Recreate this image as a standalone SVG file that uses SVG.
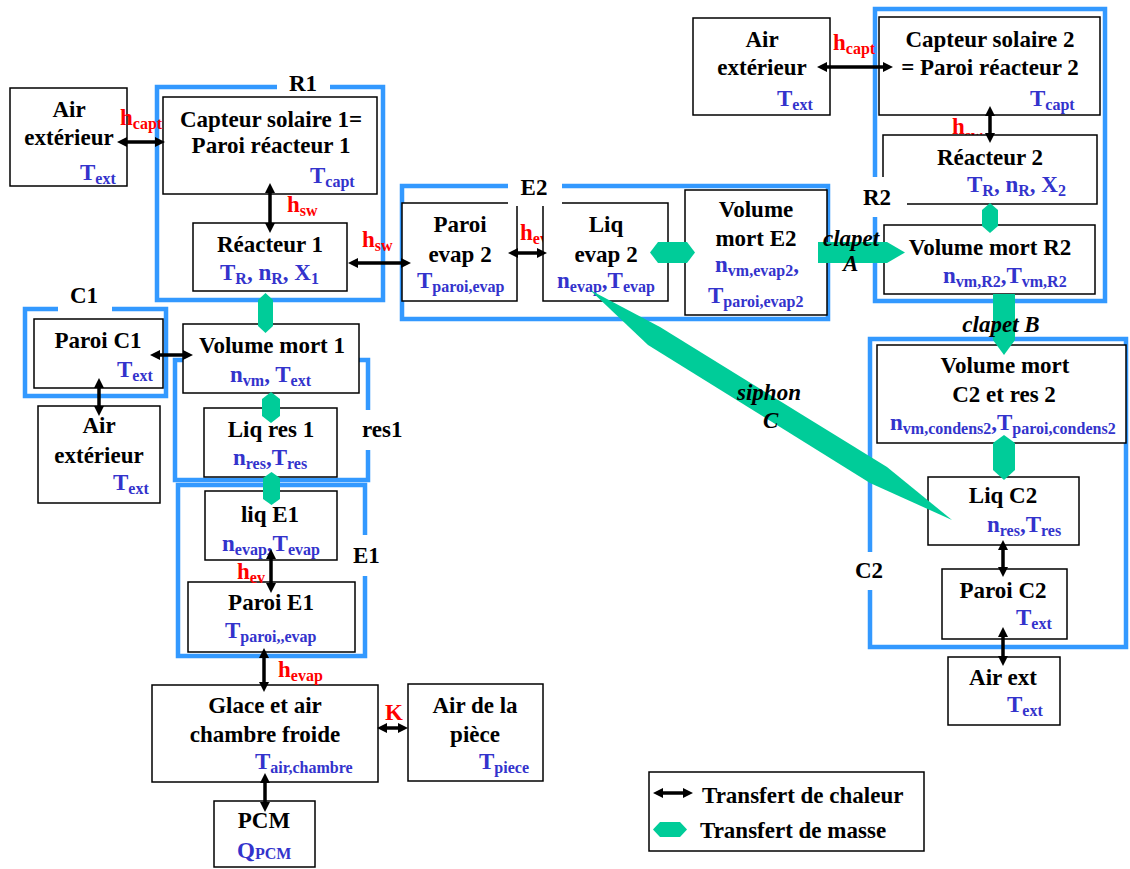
<svg xmlns="http://www.w3.org/2000/svg" width="1130" height="869" viewBox="0 0 1130 869" font-family="'Liberation Serif', 'Times New Roman', serif">
<defs>
<style>
.box{fill:#fff;stroke:#000;stroke-width:1.5}
.cont{fill:none;stroke:#3399ff;stroke-width:4.5}
.t{font-family:'Liberation Serif','Times New Roman',serif;font-weight:bold;font-size:23px;fill:#000}
.c{text-anchor:middle}
.v{fill:#3333cc}
.r{fill:#ff0000}
.s{font-size:16px}
.it{font-style:italic}
.heat{stroke:#000;stroke-width:3.5;fill:none;marker-start:url(#ah);marker-end:url(#ah)}
.mass{fill:#00cc99}
.bg{fill:#fff}
</style>
<marker id="ah" viewBox="0 0 10 10" markerWidth="10" markerHeight="10" refX="4" refY="5" orient="auto-start-reverse" markerUnits="userSpaceOnUse">
<path d="M0,0 L10,5 L0,10 z" fill="#000"/>
</marker>
</defs>
<rect width="1130" height="869" fill="#fff"/>

<g id="containers">
<rect class="cont" x="157" y="87" width="226" height="213"/>
<rect class="cont" x="402" y="186" width="426" height="133"/>
<rect class="cont" x="875" y="9" width="230" height="292"/>
<rect class="cont" x="25" y="309" width="141" height="87"/>
<rect class="cont" x="175" y="360" width="193" height="120"/>
<rect class="cont" x="178" y="485" width="187" height="171"/>
<rect class="cont" x="870" y="339" width="256" height="308"/>
</g>

<g id="labels-under">
<text class="t r" x="520" y="240">h<tspan class="s" dy="4">ev</tspan></text>
<text class="t r" x="952" y="134">h<tspan class="s" dy="7">sw</tspan></text>
</g>

<g id="air-ext-1">
<rect class="box" x="10" y="88" width="117" height="98"/>
<text class="t c" x="69" y="117">Air</text>
<text class="t c" x="69" y="145">extérieur</text>
<text class="t v" x="80" y="180">T<tspan class="s" dy="4">ext</tspan></text>
</g>
<g id="capteur-1">
<rect class="box" x="163" y="97" width="214" height="97"/>
<text class="t c" x="271" y="127">Capteur solaire 1=</text>
<text class="t c" x="271" y="153">Paroi réacteur 1</text>
<text class="t v" x="310" y="183">T<tspan class="s" dy="4">capt</tspan></text>
</g>
<g id="reacteur-1">
<rect class="box" x="193" y="223" width="154" height="68"/>
<text class="t c" x="270" y="252">Réacteur 1</text>
<text class="t v" x="220" y="280">T<tspan class="s" dy="4">R</tspan><tspan dy="-4">, n</tspan><tspan class="s" dy="4">R</tspan><tspan dy="-4">, X</tspan><tspan class="s" dy="4">1</tspan></text>
</g>
<g id="paroi-evap-2">
<rect class="box" x="402" y="203" width="115" height="98"/>
<text class="t c" x="460" y="232">Paroi</text>
<text class="t c" x="460" y="262">evap 2</text>
<text class="t v" x="417" y="288">T<tspan class="s" dy="4">paroi,evap</tspan></text>
</g>
<g id="liq-evap-2">
<rect class="box" x="543" y="203" width="125" height="98"/>
<text class="t c" x="606" y="232">Liq</text>
<text class="t c" x="606" y="262">evap 2</text>
<text class="t v" x="557" y="288">n<tspan class="s" dy="4">evap</tspan><tspan dy="-4">,T</tspan><tspan class="s" dy="4">evap</tspan></text>
</g>
<g id="volume-mort-e2">
<rect class="box" x="685" y="190" width="142" height="125"/>
<text class="t c" x="756" y="217">Volume</text>
<text class="t c" x="756" y="246">mort E2</text>
<text class="t v" x="715" y="272">n<tspan class="s" dy="4">vm,evap2</tspan><tspan dy="-4">,</tspan></text>
<text class="t v" x="708" y="303">T<tspan class="s" dy="4">paroi,evap2</tspan></text>
</g>
<g id="air-ext-2">
<rect class="box" x="693" y="18" width="137" height="97"/>
<text class="t c" x="762" y="47">Air</text>
<text class="t c" x="762" y="75">extérieur</text>
<text class="t v" x="777" y="106">T<tspan class="s" dy="4">ext</tspan></text>
</g>
<g id="capteur-2">
<rect class="box" x="879" y="17" width="221" height="98"/>
<text class="t c" x="990" y="47">Capteur solaire 2</text>
<text class="t c" x="990" y="75">= Paroi réacteur 2</text>
<text class="t v" x="1030" y="106">T<tspan class="s" dy="4">capt</tspan></text>
</g>
<g id="reacteur-2">
<rect class="box" x="883" y="135" width="214" height="69"/>
<text class="t c" x="990" y="165">Réacteur 2</text>
<text class="t v" x="967" y="192">T<tspan class="s" dy="4">R</tspan><tspan dy="-4">, n</tspan><tspan class="s" dy="4">R</tspan><tspan dy="-4">, X</tspan><tspan class="s" dy="4">2</tspan></text>
</g>
<g id="volume-mort-r2">
<rect class="box" x="884" y="225" width="211" height="69"/>
<text class="t c" x="990" y="255">Volume mort R2</text>
<text class="t v" x="943" y="283">n<tspan class="s" dy="4">vm,R2</tspan><tspan dy="-4">,T</tspan><tspan class="s" dy="4">vm,R2</tspan></text>
</g>
<g id="volume-mort-c2">
<rect class="box" x="877" y="345" width="249" height="98"/>
<text class="t c" x="1005" y="373">Volume mort</text>
<text class="t c" x="1004" y="402">C2 et res 2</text>
<text class="t v" x="890" y="430">n<tspan class="s" dy="4">vm,condens2</tspan><tspan dy="-4">,T</tspan><tspan class="s" dy="4">paroi,condens2</tspan></text>
</g>
<g id="liq-c2">
<rect class="box" x="928" y="477" width="151" height="68"/>
<text class="t c" x="1003" y="503">Liq C2</text>
<text class="t v" x="987" y="532">n<tspan class="s" dy="4">res</tspan><tspan dy="-4">,T</tspan><tspan class="s" dy="4">res</tspan></text>
</g>
<g id="paroi-c2">
<rect class="box" x="942" y="569" width="125" height="70"/>
<text class="t c" x="1003" y="598">Paroi C2</text>
<text class="t v" x="1016" y="625">T<tspan class="s" dy="4">ext</tspan></text>
</g>
<g id="air-ext-c2">
<rect class="box" x="948" y="657" width="112" height="68"/>
<text class="t c" x="1003" y="685">Air ext</text>
<text class="t v" x="1007" y="712">T<tspan class="s" dy="4">ext</tspan></text>
</g>
<g id="paroi-c1">
<rect class="box" x="34" y="319" width="129" height="69"/>
<text class="t c" x="98" y="348">Paroi C1</text>
<text class="t v" x="117" y="377">T<tspan class="s" dy="4">ext</tspan></text>
</g>
<g id="air-ext-3">
<rect class="box" x="38" y="406" width="122" height="97"/>
<text class="t c" x="99" y="433">Air</text>
<text class="t c" x="99" y="463">extérieur</text>
<text class="t v" x="113" y="490">T<tspan class="s" dy="4">ext</tspan></text>
</g>
<g id="volume-mort-1">
<rect class="box" x="183" y="324" width="176" height="69"/>
<text class="t c" x="272" y="353">Volume mort 1</text>
<text class="t v" x="230" y="382">n<tspan class="s" dy="4">vm</tspan><tspan dy="-4">, T</tspan><tspan class="s" dy="4">ext</tspan></text>
</g>
<g id="liq-res-1">
<rect class="box" x="204" y="408" width="133" height="69"/>
<text class="t c" x="271" y="437">Liq res 1</text>
<text class="t v" x="233" y="465">n<tspan class="s" dy="4">res</tspan><tspan dy="-4">,T</tspan><tspan class="s" dy="4">res</tspan></text>
</g>
<g id="liq-e1">
<rect class="box" x="205" y="491" width="132" height="69"/>
<text class="t c" x="270" y="522">liq E1</text>
<text class="t v" x="222" y="551">n<tspan class="s" dy="4">evap</tspan><tspan dy="-4">,T</tspan><tspan class="s" dy="4">evap</tspan></text>
</g>
<g id="paroi-e1">
<rect class="box" x="188" y="582" width="167" height="70"/>
<text class="t c" x="271" y="610">Paroi E1</text>
<text class="t v" x="225" y="638">T<tspan class="s" dy="4">paroi,,evap</tspan></text>
</g>
<g id="glace">
<rect class="box" x="152" y="685" width="226" height="97"/>
<text class="t c" x="265" y="713">Glace et air</text>
<text class="t c" x="265" y="742">chambre froide</text>
<text class="t v" x="255" y="769">T<tspan class="s" dy="4">air,chambre</tspan></text>
</g>
<g id="air-piece">
<rect class="box" x="408" y="684" width="135" height="97"/>
<text class="t c" x="475" y="713">Air de la</text>
<text class="t c" x="475" y="742">pièce</text>
<text class="t v" x="479" y="769">T<tspan class="s" dy="4">piece</tspan></text>
</g>
<g id="pcm">
<rect class="box" x="214" y="801" width="101" height="66"/>
<text class="t c" x="264" y="828">PCM</text>
<text class="t v" x="237" y="858">Q<tspan class="s" dy="1">PCM</tspan></text>
</g>

<g id="container-labels">
<rect class="bg" x="277" y="81" width="53" height="13"/>
<text class="t c" x="303" y="91">R1</text>
<rect class="bg" x="508" y="178" width="54" height="28"/>
<text class="t c" x="534" y="195">E2</text>
<rect class="bg" x="858" y="177" width="49" height="40"/>
<text class="t" x="863" y="205">R2</text>
<rect class="bg" x="58" y="302" width="54" height="12"/>
<text class="t" x="70" y="303">C1</text>
<rect class="bg" x="358" y="410" width="44" height="40"/>
<text class="t" x="362" y="437">res1</text>
<rect class="bg" x="350" y="535" width="32" height="41"/>
<text class="t" x="353" y="563">E1</text>
<rect class="bg" x="850" y="552" width="40" height="38"/>
<text class="t" x="855" y="578">C2</text>
</g>

<g id="connectors">
<path class="heat" d="M123,142 H159"/>
<path class="heat" d="M270,189 V227"/>
<path class="heat" d="M354,263 H405"/>
<path class="heat" d="M514,253 H541"/>
<path class="heat" d="M823,67 H887"/>
<path class="heat" d="M990,112 V137"/>
<path class="heat" d="M156,355 H187"/>
<path class="heat" d="M99,384 V410"/>
<path class="heat" d="M271,555 V587"/>
<path class="heat" d="M264,654 V686"/>
<path class="heat" d="M383,728 H402"/>
<path class="heat" d="M265,779 V806"/>
<path class="heat" d="M1003,546 V571"/>
<path class="heat" d="M1003,633 V660"/>
<text class="t r" x="120" y="125">h<tspan class="s" dy="4">capt</tspan></text>
<text class="t r" x="287" y="212">h<tspan class="s" dy="4">sw</tspan></text>
<text class="t r" x="362" y="247">h<tspan class="s" dy="4">sw</tspan></text>
<text class="t r" x="833" y="50">h<tspan class="s" dy="4">capt</tspan></text>
<text class="t r" x="237" y="579">h<tspan class="s" dy="4">ev</tspan></text>
<text class="t r" x="278" y="677">h<tspan class="s" dy="4">evap</tspan></text>
<text class="t r" x="385" y="720">K</text>
<polygon class="mass" points="650,252.5 658,242 687,242 695,252.5 687,263 658,263"/>
<polygon class="mass" points="265.5,293 273,300 273,326 265.5,333 258,326 258,300"/>
<polygon class="mass" points="271,392 280,399 280,416 271,423 262,416 262,399"/>
<polygon class="mass" points="271.5,472 280,478 280,499 271.5,505 263,499 263,478"/>
<polygon class="mass" points="990,203 998,210 998,226 990,233 982,226 982,210"/>
<polygon class="mass" points="1004,435 1015,443 1015,470 1004,480 993,470 993,443"/>
<polygon class="mass" points="818,242 887,242 905,252.5 887,263 818,263"/>
<polygon class="mass" points="993,294 1015,294 1015,340 1004,355 993,340"/>
<polygon class="mass" points="590,290 660,327 887,467 952,520 870,483 648,345"/>
<text class="t it" x="823" y="246">clapet</text>
<text class="t it" x="843" y="271">A</text>
<text class="t it c" x="1001" y="332">clapet B</text>
<text class="t it" x="737" y="400">siphon</text>
<text class="t it" x="763" y="428">C</text>
</g>

<g id="legend">
<rect class="box" x="649" y="772" width="275" height="79"/>
<path class="heat" d="M659,793 H687"/>
<text class="t" x="702" y="803">Transfert de chaleur</text>
<polygon class="mass" points="653,829.5 660,822 680,822 687,829.5 680,837 660,837"/>
<text class="t" x="700" y="838">Transfert de masse</text>
</g>
</svg>
